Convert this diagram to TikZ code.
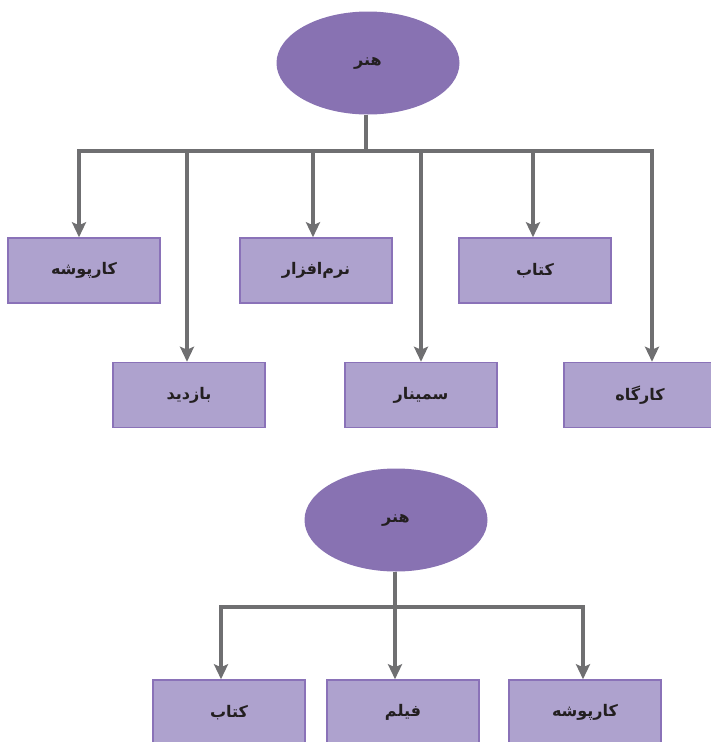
\documentclass[tikz,border=0pt]{standalone}
\usepackage{fontspec}
\newfontfamily\arabicfont[Script=Arabic]{DejaVu Sans}
\TeXXeTstate=1
\usetikzlibrary{arrows.meta,shapes.geometric}
\definecolor{rootfill}{HTML}{8872B2}
\definecolor{boxfill}{HTML}{AEA2CE}
\definecolor{boxline}{HTML}{8A72B8}
\definecolor{linkgray}{HTML}{6F6F71}
\definecolor{labeltext}{HTML}{231F20}
\begin{document}
\begin{tikzpicture}[x=1pt,y=-1pt,
    root/.style={ellipse,fill=rootfill,minimum width=183,minimum height=103,inner sep=0pt,
      text=labeltext,font=\arabicfont\bfseries\fontsize{16}{18}\selectfont},
    item/.style={rectangle,draw=boxline,fill=boxfill,line width=1.5pt,minimum width=152,
      minimum height=65,inner sep=0pt,text=labeltext,font=\arabicfont\bfseries\fontsize{16}{18}\selectfont},
    link/.style={draw=linkgray,line width=3.3pt},
    arrow/.style={link,-{Stealth[length=15pt,width=14pt,inset=3pt]}}]
    \useasboundingbox (0,0) rectangle (710,742);

    % first tree
    \node [root] (art) at (368,63) {\beginR هنر\endR};
    \node [item] (folder) at (84,270.5) {\beginR کارپوشه\endR};
    \node [item] (software) at (316,270.5) {\beginR نرم‌افزار\endR};
    \node [item] (book) at (535,270.5) {\beginR کتاب\endR};
    \node [item] (visit) at (189,395) {\beginR بازدید\endR};
    \node [item] (seminar) at (421,395) {\beginR سمینار\endR};
    \node [item] (workshop) at (640,395) {\beginR کارگاه\endR};
    \coordinate (bus) at (366,151);

    \draw [link] (art.south -| bus) -- (bus);
    \draw [arrow] (bus) -| ([xshift=-5]folder.north);
    \draw [arrow] (bus) -| ([xshift=-2]visit.north);
    \draw [arrow] (bus) -| ([xshift=-3]software.north);
    \draw [arrow] (bus) -| (seminar.north);
    \draw [arrow] (bus) -| ([xshift=-2]book.north);
    \draw [arrow] (bus) -| ([xshift=12]workshop.north);

    % second tree
    \node [root] (art2) at (396,520) {\beginR هنر\endR};
    \node [item] (book2) at (229,712.5) {\beginR کتاب\endR};
    \node [item] (film) at (403,712.5) {\beginR فیلم\endR};
    \node [item] (folder2) at (585,712.5) {\beginR کارپوشه\endR};
    \coordinate (bus2) at (395,607);

    \draw [link] (art2.south -| bus2) -- (bus2);
    \draw [arrow] (bus2) -| ([xshift=-8]book2.north);
    \draw [arrow] (bus2) -| ([xshift=-8]film.north);
    \draw [arrow] (bus2) -| ([xshift=-2]folder2.north);
\end{tikzpicture}
\end{document}
